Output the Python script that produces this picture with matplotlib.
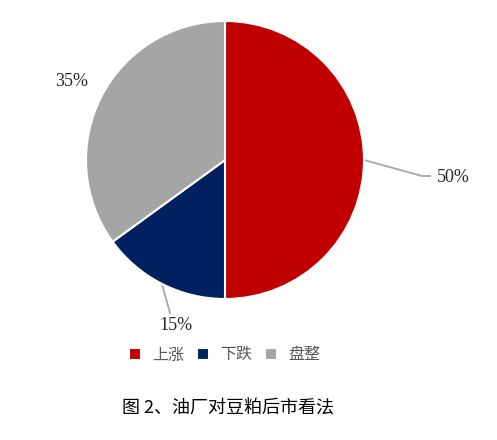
import numpy as np
import matplotlib.pyplot as plt

labels = ['上涨', '下跌', '盘整']
values = [50, 15, 35]
pct_text = ['50%', '15%', '35%']
colors = ['#C00000', '#002060', '#A5A5A5']

W, H = 497, 440
fig = plt.figure(figsize=(W / 100, H / 100), dpi=100)
ax = fig.add_axes([0, 0, 1, 1])

cx, cy, r = 225, H - 160, 139
wedges, _ = ax.pie(values, colors=colors, startangle=90, counterclock=False,
                   center=(cx, cy), radius=r, frame=True,
                   wedgeprops=dict(edgecolor='white', linewidth=1.5))
ax.set_xlim(0, W)
ax.set_ylim(0, H)
ax.set_aspect('equal')
ax.axis('off')

# label positions (pixels from top-left), elbow points for leader lines
label_pos = [(453, 177), (176, 325), (72, 81)]
elbows = [[(422, 176), (430, 176)], [(170, 313)], []]

for w, txt, lp, el in zip(wedges, pct_text, label_pos, elbows):
    th = np.deg2rad((w.theta1 + w.theta2) / 2)
    ex, ey = cx + r * np.cos(th), cy + r * np.sin(th)
    if el:
        xs = [ex] + [p[0] for p in el]
        ys = [ey] + [H - p[1] for p in el]
        ax.plot(xs, ys, color='#A6A6A6', lw=1.3, zorder=0)
    ax.text(lp[0], H - lp[1], txt, ha='center', va='center', fontsize=13,
            family='Liberation Serif', color='#262626')

leg = ax.legend(wedges, labels, loc='center', bbox_to_anchor=(225 / W, 1 - 355 / H),
                ncol=3, frameon=False, handlelength=0.75, handleheight=0.75,
                handletextpad=0.7, columnspacing=0.8,
                prop={'family': ['Noto Sans CJK SC', 'DejaVu Sans'], 'size': 11.5})
for t in leg.get_texts():
    t.set_color('#595959')

fig.text(228 / W, 1 - 408 / H, '图 2、油厂对豆粕后市看法', ha='center', va='center',
         fontsize=13, family=['Noto Sans CJK SC', 'DejaVu Sans'], color='black')

fig.savefig('out.png', dpi=100)
